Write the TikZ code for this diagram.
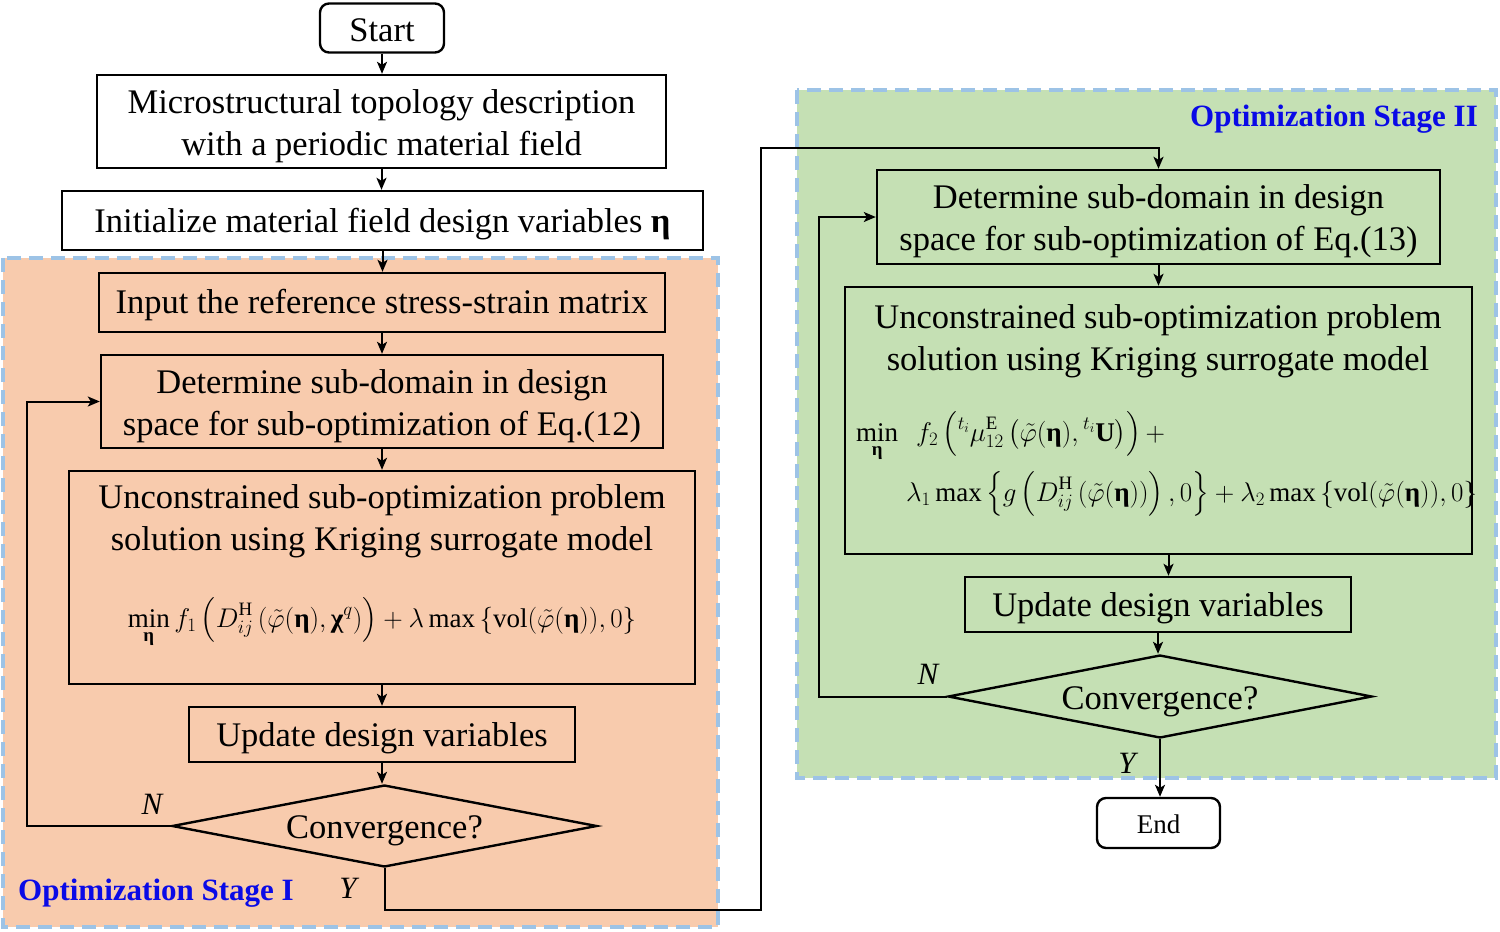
\documentclass[tikz,border=0pt]{standalone}
\usepackage{fix-cm}
\usepackage{amsmath,bm}
\usepackage{fontspec}
\setmainfont{Liberation Serif}
\usetikzlibrary{shapes.geometric,arrows.meta}
\definecolor{peach}{HTML}{F8CBAD}
\definecolor{lgreen}{HTML}{C5E0B4}
\definecolor{dashblue}{HTML}{9DC3E6}
\definecolor{labblue}{HTML}{0A0AE6}
\newcommand{\bEta}{\text{\bfseries η}}
\newcommand{\bChi}{\text{\bfseries χ}}
\newcommand{\lowstrut}[1]{\rule{0pt}{#1pt}}
\begin{document}
\begin{tikzpicture}[x=1pt,y=-1pt,
  box/.style={draw,line width=2.4pt,inner sep=0pt,align=center,font=\fontsize{34.5}{42}\selectfont},
  rbox/.style={box,rounded corners=9pt},
  dec/.style={draw,diamond,line width=2.4pt,inner sep=0pt,aspect=5.2,font=\fontsize{34.5}{42}\selectfont},
  txt/.style={inner sep=0pt,align=center,font=\fontsize{34.5}{42}\selectfont},
  fm/.style={inner sep=0pt,font=\fontsize{27}{32}\selectfont},
  lab/.style={inner sep=0pt,font=\fontsize{31}{36}\selectfont\itshape},
  stagelab/.style={inner sep=0pt,text=labblue,font=\fontsize{31}{36}\selectfont\bfseries},
  stagebg/.style={line width=4pt,draw=dashblue,dash pattern=on 14pt off 8pt},
  arr/.style={line width=2pt,-{Stealth[length=12pt,width=10pt,inset=3pt]}},
  ]
\useasboundingbox (0,0) rectangle (1500,932);
% stage backgrounds
\path[fill=peach,stagebg] (3,258) rectangle (718,927);
\path[fill=lgreen,stagebg] (797,90) rectangle (1496,778);

% stage I nodes
\node[rbox,minimum width=124,minimum height=49] (start) at (382,28) {\lowstrut{28}Start};
\node[box,minimum width=569,minimum height=93] (b1) at (381.5,121.5) {\lowstrut{33}Microstructural topology description\\with a periodic material field};
\node[box,minimum width=641,minimum height=59] (b2) at (382.5,220.5) {\lowstrut{31.5}Initialize material field design variables \textbf{η}};
\node[box,minimum width=566,minimum height=59] (b3) at (382,302.5) {\lowstrut{30}Input the reference stress-strain matrix};
\node[box,minimum width=562,minimum height=93] (b4) at (382,401.5) {\lowstrut{33}Determine sub-domain in design\\space for sub-optimization of Eq.(12)};
\node[box,minimum width=626,minimum height=213] (b5) at (382,577.5) {};
\node[txt] (b5t) at (382,521) {Unconstrained sub-optimization problem\\solution using Kriging surrogate model};
\node[fm,anchor=base] (b5f) at (382,627) {$\displaystyle\min_{\bEta} f_1\left(D_{ij}^{\mathrm{H}}\left(\tilde{\varphi}(\bEta),\bChi^{q}\right)\right)+\lambda\max\left\{\mathrm{vol}(\tilde{\varphi}(\bEta)),0\right\}$};
\node[box,minimum width=386,minimum height=55] (b6) at (382,734.5) {\lowstrut{31.5}Update design variables};
\node[dec,minimum width=425,minimum height=82] (d1) at (384.5,826) {\lowstrut{33}Convergence?};
\node[lab] (n1) at (152,804) {N};
\node[lab] (y1) at (348,888) {Y};
\node[stagelab,anchor=west] (s1) at (18,893) {Optimization Stage I};

% stage II nodes
\node[stagelab,anchor=east] (s2) at (1478,119) {Optimization Stage II};
\node[box,minimum width=563,minimum height=94] (b7) at (1158.5,217) {\lowstrut{33}Determine sub-domain in design\\space for sub-optimization of Eq.(13)};
\node[box,minimum width=627,minimum height=267] (b8) at (1158.5,420.5) {};
\node[txt] (b8t) at (1158,341) {Unconstrained sub-optimization problem\\solution using Kriging surrogate model};
\node[fm,anchor=base west] (b8f1) at (856,441) {$\displaystyle\min_{\bEta}\ \ f_2\left({}^{t_i}\mu_{12}^{\mathrm{E}}\left(\tilde{\varphi}(\bEta),{}^{t_i}\mathbf{U}\right)\right)+$};
\node[fm,anchor=base west] (b8f2) at (906,501) {$\displaystyle\lambda_1\max\left\{g\left(D_{ij}^{\mathrm{H}}\left(\tilde{\varphi}(\bEta)\right)\right),0\right\}+\lambda_2\max\left\{\mathrm{vol}(\tilde{\varphi}(\bEta)),0\right\}$};
\node[box,minimum width=386,minimum height=55] (b9) at (1158,604.5) {\lowstrut{31}Update design variables};
\node[dec,minimum width=424,minimum height=83] (d2) at (1160,696.5) {\lowstrut{33}Convergence?};
\node[lab] (n2) at (928,674) {N};
\node[lab] (y2) at (1127,763) {Y};
\node[rbox,minimum width=123,minimum height=50,font=\fontsize{27}{32}\selectfont] (end) at (1158.5,823) {\lowstrut{22}End};

% coordinates
\coordinate (l1) at (27,826);
\coordinate (yturn) at (761,910);
\coordinate (ytop) at (761,148);
\coordinate (l2) at (819,696.5);

% connectors
\draw[arr] (start.south) -- (start.south |- b1.north);
\draw[arr] (b1.south) -- (b1.south |- b2.north);
\draw[arr] (b2.south) -- (b2.south |- b3.north);
\draw[arr] (b3.south) -- (b3.south |- b4.north);
\draw[arr] (b4.south) -- (b4.south |- b5.north);
\draw[arr] (b5.south) -- (b5.south |- b6.north);
\draw[arr] (b6.south) -- (b6.south |- d1.north);
\draw[arr] (d1.west) -- (l1) |- (b4.west);
\draw[arr] (d1.south) |- (yturn) -- (ytop) -| (b7.north);
\draw[arr] (b7.south) -- (b7.south |- b8.north);
\draw[arr] ([xshift=10pt]b8.south) -- ([xshift=10pt]b8.south |- b9.north);
\draw[arr] (b9.south) -- (b9.south |- d2.north);
\draw[arr] (d2.west) -- (l2) |- (b7.west);
\draw[arr] (d2.south) -- (d2.south |- end.north);
\end{tikzpicture}
\end{document}
